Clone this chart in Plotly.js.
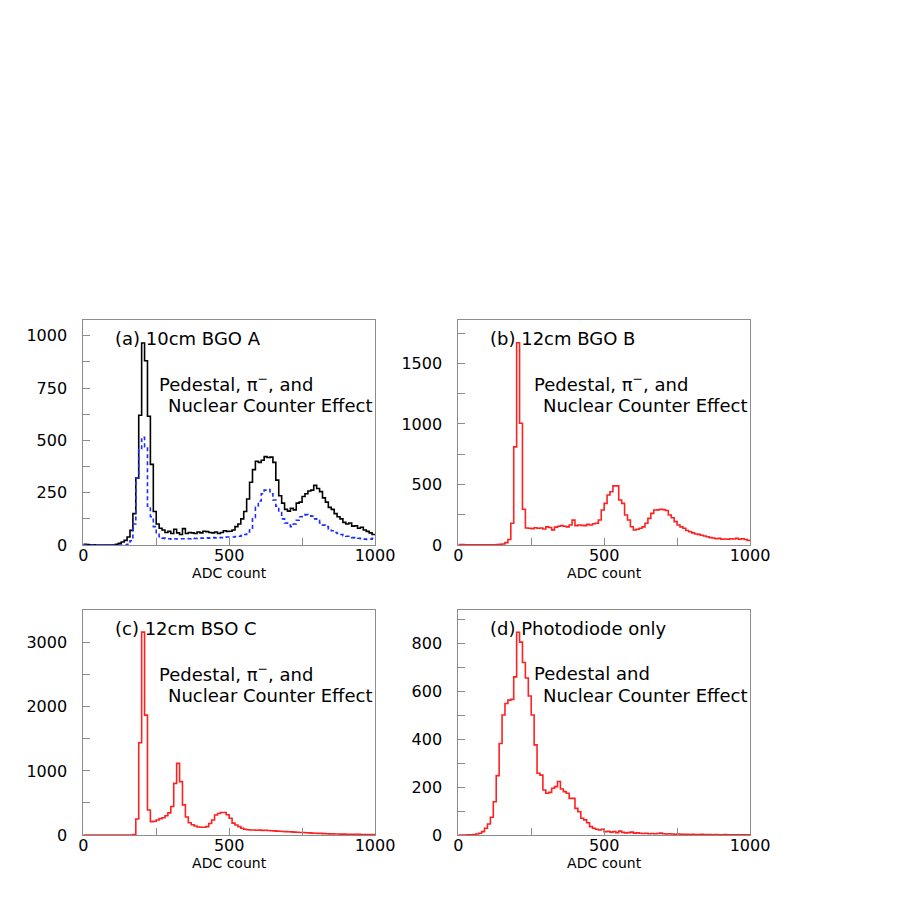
<!DOCTYPE html>
<html>
<head>
<meta charset="utf-8">
<script src="https://cdn.plot.ly/plotly-3.0.1.min.js"></script>
<style>
  html, body { margin: 0; padding: 0; background: #fff; }
  #chart { width: 900px; height: 900px; }
</style>
</head>
<body>
<div id="chart"></div>
<script>
// ADC histograms, 100 bins of 10 counts from 0 to 1000
var binWidth = 10;
var nBins = 100;

// (a) 10cm BGO A, solid black and dashed blue
var bgoA = [3,2,1,1,0,0,0,0,0,0,
  1,3,8,14,22,38,70,150,320,620,
  965,880,615,385,160,100,80,72,60,65,
  55,75,58,50,78,55,60,58,55,62,
  58,66,64,60,58,62,55,60,68,65,
  66,72,88,100,125,160,220,300,360,400,
  395,405,422,418,420,395,310,235,200,170,
  162,175,168,200,205,232,245,258,262,285,
  270,255,225,205,180,170,150,135,125,108,
  100,105,90,92,80,85,72,65,58,50];

var bgoAdash = [0,0,0,0,0,0,0,0,0,0,
  0,0,0,0,0,3,20,100,320,455,
  515,470,185,135,88,55,40,33,30,30,
  28,30,29,30,30,31,30,32,31,32,
  33,32,34,33,35,34,36,35,37,38,
  38,38,40,42,45,50,62,80,130,180,
  210,245,262,265,245,215,185,155,125,105,
  95,88,100,118,135,142,145,140,138,125,
  118,105,95,88,75,68,60,55,50,45,
  42,38,35,33,32,30,28,27,28,32];

// (b) 12cm BGO B
var bgoB = [4,3,2,2,2,1,1,1,1,1,
  1,2,2,3,5,8,20,45,180,810,
  1670,1005,295,140,138,135,142,138,140,132,
  150,145,125,148,155,160,155,150,165,205,
  160,165,162,160,170,165,175,180,206,289,
  344,413,440,488,488,372,344,248,206,151,
  124,130,138,150,179,220,261,289,290,295,
  292,285,248,225,193,165,150,138,120,110,
  100,91,88,80,74,68,61,58,52,55,
  47,50,48,52,50,55,48,52,45,38];

// (c) 12cm BSO C
var bsoC = [0,0,0,0,0,0,0,0,0,0,
  0,0,0,0,0,0,1,8,250,1440,
  3165,1870,390,208,215,234,255,270,300,345,
  445,806,1118,832,470,280,190,160,140,125,
  120,120,130,180,235,312,335,350,350,315,
  262,185,156,130,106,90,82,78,78,75,
  76,72,74,70,66,64,60,58,54,52,
  50,48,45,42,40,38,36,33,30,28,
  26,25,22,20,18,17,16,15,14,13,
  12,11,10,10,9,8,8,7,6,6];

// (d) Photodiode only
var diodeD = [0,0,0,1,1,2,4,7,14,28,
  46,74,139,248,382,501,549,563,566,660,
  846,805,720,655,580,501,376,258,250,188,
  174,178,195,202,223,192,181,174,153,153,
  111,97,70,63,51,35,28,24,21,24,
  14,15,12,14,10,16,11,9,10,12,
  8,9,7,6,7,5,6,5,6,8,
  5,4,5,4,3,4,3,3,3,2,
  3,2,2,3,2,2,2,1,2,1,
  1,2,1,1,1,1,1,1,1,1];

var panelLabels = ['(a) 10cm BGO A', '(b) 12cm BGO B', '(c) 12cm BSO C', '(d) Photodiode only'];
var noteTop = ['Pedestal, \u03c0<sup>\u2212</sup>, and', 'Pedestal, \u03c0<sup>\u2212</sup>, and',
               'Pedestal, \u03c0<sup>\u2212</sup>, and', 'Pedestal and'];
var noteBottom = 'Nuclear Counter Effect';
var xTitle = 'ADC count';

var edges = [];
for (var i = 0; i <= nBins; i++) edges.push(i * binWidth);

function hist(vals, xa, ya, color, dash) {
  return {
    x: edges,
    y: vals.concat([vals[vals.length - 1]]),
    xaxis: xa, yaxis: ya,
    type: 'scatter', mode: 'lines',
    line: {shape: 'hv', color: color, width: 1.6, dash: dash || 'solid'},
    hoverinfo: 'skip'
  };
}

var data = [
  hist(bgoA, 'x', 'y', '#000000'),
  hist(bgoAdash, 'x', 'y', '#1a2cff', '4px,3px'),
  hist(bgoB, 'x2', 'y2', '#ff2020'),
  hist(bsoC, 'x3', 'y3', '#ff2020'),
  hist(diodeD, 'x4', 'y4', '#ff2020')
];

var frame = '#8c8c8c';
var tickFont = {family: 'DejaVu Sans', size: 16, color: '#000'};

function xax(dom, anchor) {
  return {
    domain: dom, anchor: anchor, range: [0, 1000],
    dtick: 500, ticks: 'inside', ticklen: 7, tickcolor: frame,
    minor: {dtick: 250, ticks: 'inside', ticklen: 7, tickcolor: frame},
    showline: true, mirror: true, linecolor: frame, linewidth: 1,
    showgrid: false, zeroline: false, tickfont: tickFont,
    ticklabelstandoff: -4,
    title: {text: xTitle, font: {family: 'DejaVu Sans', size: 14, color: '#000'}, standoff: 1}
  };
}
function yax(dom, anchor, top, step) {
  return {
    domain: dom, anchor: anchor, range: [0, top],
    dtick: step, ticks: 'inside', ticklen: 7, tickcolor: frame,
    minor: {dtick: step / 2, ticks: 'inside', ticklen: 7, tickcolor: frame},
    showline: true, mirror: true, linecolor: frame, linewidth: 1,
    showgrid: false, zeroline: false, tickfont: tickFont,
    ticklabelstandoff: 12
  };
}

var xl = [83.3 / 900, 375 / 900], xr = [458.3 / 900, 750 / 900];
var yt = [1 - 545 / 900, 1 - 320 / 900], yb = [1 - 835 / 900, 1 - 610 / 900];

var annotations = [];
var refs = [['x', 'y'], ['x2', 'y2'], ['x3', 'y3'], ['x4', 'y4']];
var noteFont = {family: 'DejaVu Sans', size: 18, color: '#000'};
refs.forEach(function (r, k) {
  var xd = r[0] + ' domain', yd = r[1] + ' domain';
  annotations.push({xref: xd, yref: yd, x: 0.102, y: 0.917, text: panelLabels[k],
    showarrow: false, xanchor: 'left', yanchor: 'middle', font: noteFont});
  annotations.push({xref: xd, yref: yd, x: 0.254, y: 0.72, text: noteTop[k],
    showarrow: false, xanchor: 'left', yanchor: 'middle', font: noteFont});
  annotations.push({xref: xd, yref: yd, x: 0.283, y: 0.62, text: noteBottom,
    showarrow: false, xanchor: 'left', yanchor: 'middle', font: noteFont});
});

var layout = {
  width: 900, height: 900,
  margin: {l: 0, r: 0, t: 0, b: 0},
  paper_bgcolor: '#fff', plot_bgcolor: '#fff',
  showlegend: false,
  xaxis: xax(xl, 'y'), yaxis: yax(yt, 'x', 1075, 250),
  xaxis2: xax(xr, 'y2'), yaxis2: yax(yt, 'x2', 1858, 500),
  xaxis3: xax(xl, 'y3'), yaxis3: yax(yb, 'x3', 3510, 1000),
  xaxis4: xax(xr, 'y4'), yaxis4: yax(yb, 'x4', 939, 200),
  annotations: annotations
};

Plotly.newPlot('chart', data, layout, {staticPlot: true});
</script>
</body>
</html>
